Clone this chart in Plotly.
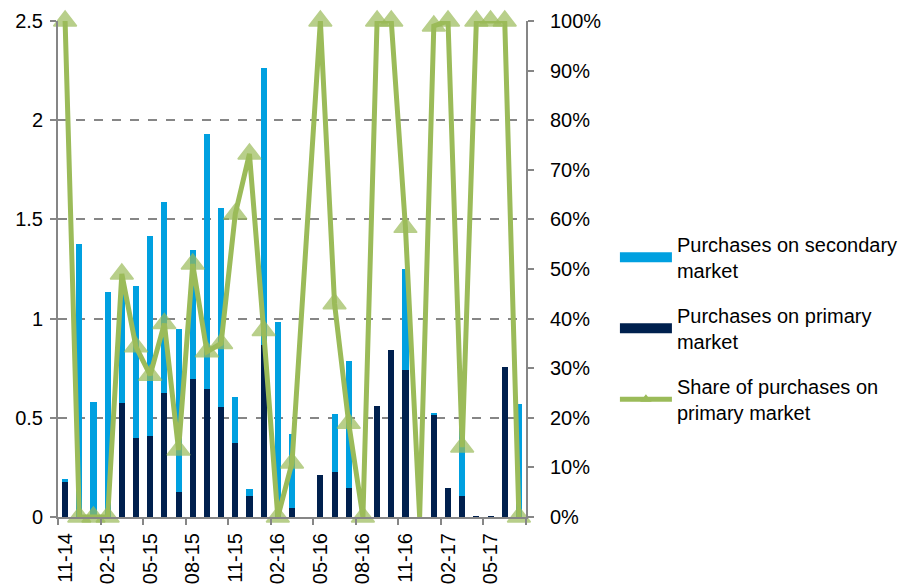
import plotly.graph_objects as go

months = ["11-14", "12-14", "01-15", "02-15", "03-15", "04-15", "05-15", "06-15", "07-15",
          "08-15", "09-15", "10-15", "11-15", "12-15", "01-16", "02-16", "03-16", "04-16",
          "05-16", "06-16", "07-16", "08-16", "09-16", "10-16", "11-16", "12-16", "01-17",
          "02-17", "03-17", "04-17", "05-17", "06-17", "07-17"]

primary = [0.178, 0.0, 0.0, 0.0, 0.573, 0.40, 0.41, 0.623, 0.127, 0.694, 0.643, 0.553,
           0.371, 0.107, 0.865, 0.0, 0.047, 0.0, 0.21, 0.227, 0.147, 0.0, 0.56, 0.84,
           0.74, 0.0, 0.515, 0.148, 0.105, 0.005, 0.005, 0.758, 0.0]

secondary = [0.012, 1.375, 0.58, 1.135, 0.597, 0.764, 1.007, 0.965, 0.819, 0.651, 1.287, 1.005,
             0.232, 0.033, 1.397, 0.984, 0.373, 0.0, 0.0, 0.293, 0.637, 0.0, 0.0, 0.0,
             0.51, 0.0, 0.01, 0.0, 0.60, 0.0, 0.0, 0.0, 0.57]

share = [1.00, 0.0, 0.0, 0.0, 0.49, 0.343, 0.286, 0.39, 0.135, 0.51, 0.333, 0.35,
         0.611, 0.732, 0.376, 0.0, 0.109, None, 1.00, 0.43, 0.189, 0.0, 1.00, 1.00,
         0.584, 0.0, 0.99, 1.00, 0.141, 1.00, 1.00, 1.00, 0.0]

tick_labels = months[::3]

GRAY = "#868686"
FONT = "Liberation Sans, Arial, sans-serif"
DARK = "#00204E"
LIGHT = "#00A0E0"
GREEN = "#9BBB59"

idx = list(range(len(months)))
marker_sizes = [0 if (s == 0.0 and i == 25) else 20 for i, s in enumerate(share)]

fig = go.Figure()
fig.add_trace(go.Bar(
    x=idx, y=primary, name="Purchases on primary<br>market",
    marker=dict(color=DARK, line=dict(width=0)), width=0.43,
    yaxis="y", showlegend=False))
fig.add_trace(go.Bar(
    x=idx, y=secondary, name="Purchases on secondary<br>market",
    marker=dict(color=LIGHT, line=dict(width=0)), width=0.43,
    yaxis="y", showlegend=False))
fig.add_trace(go.Scatter(
    x=idx, y=share, name="Share of purchases on<br>primary market",
    mode="lines+markers", connectgaps=True, cliponaxis=False,
    line=dict(color=GREEN, width=5),
    marker=dict(symbol="triangle-up", size=marker_sizes, color=GREEN,
                line=dict(color=GREEN, width=1.5)),
    yaxis="y2", showlegend=False))

# legend-only entries (wide swatches like the original)
fig.add_trace(go.Scatter(
    x=[None], y=[None], mode="lines", name="Purchases on secondary<br>market",
    line=dict(color=LIGHT, width=12), legendrank=1, legendgroup="a"))
fig.add_trace(go.Scatter(
    x=[None], y=[None], mode="lines", name="Purchases on primary<br>market",
    line=dict(color=DARK, width=12), legendrank=2, legendgroup="b"))
fig.add_trace(go.Scatter(
    x=[None], y=[None], mode="lines+markers", name="Share of purchases on<br>primary market",
    line=dict(color=GREEN, width=5),
    marker=dict(symbol="triangle-up", size=10, color=GREEN),
    legendrank=3, legendgroup="c"))

fig.update_layout(
    width=914, height=585,
    margin=dict(l=58, r=388, t=21, b=68, autoexpand=False),
    paper_bgcolor="white", plot_bgcolor="white",
    barmode="stack", bargap=0,
    font=dict(family=FONT, size=20, color="#000000"),
    showlegend=True,
    legend=dict(x=1.19, y=0.589, xanchor="left", yanchor="top",
                traceorder="grouped", tracegroupgap=16,
                font=dict(family=FONT, size=20, color="#000000"),
                itemwidth=52, bgcolor="rgba(0,0,0,0)"),
    xaxis=dict(
        range=[-0.5, len(months) - 0.5], automargin=False,
        tickmode="array", tickvals=idx[::3], ticktext=tick_labels,
        tickangle=-90, ticks="", showgrid=False, zeroline=False,
        showline=True, linecolor=GRAY, linewidth=2, ticklabelstandoff=6,
        tickfont=dict(family=FONT, size=20, color="#000000"),
        minor=dict(tick0=-0.5, dtick=3, ticks="outside", ticklen=6,
                   tickcolor=GRAY, tickwidth=2, showgrid=False),
    ),
    yaxis=dict(
        range=[0, 2.5], tickmode="array", tickvals=[0, 0.5, 1, 1.5, 2, 2.5],
        ticktext=["0", "0.5", "1", "1.5", "2", "2.5"], automargin=False,
        showgrid=True, gridcolor=GRAY, gridwidth=1.5, griddash="dash",
        zeroline=False, showline=True, linecolor=GRAY, linewidth=2,
        ticks="outside", ticklen=6, tickcolor=GRAY, tickwidth=2, ticklabelstandoff=3,
        tickfont=dict(family=FONT, size=20, color="#000000"),
    ),
    yaxis2=dict(
        range=[0, 1], overlaying="y", side="right", anchor="x", automargin=False,
        tickmode="linear", tick0=0, dtick=0.1, tickformat=".0%",
        showgrid=False, zeroline=False, showline=True, linecolor=GRAY, linewidth=2,
        ticks="outside", ticklen=6, tickcolor=GRAY, tickwidth=2, ticklabelstandoff=12,
        tickfont=dict(family=FONT, size=20, color="#000000"),
    ),
)

fig.write_html("out.html")
